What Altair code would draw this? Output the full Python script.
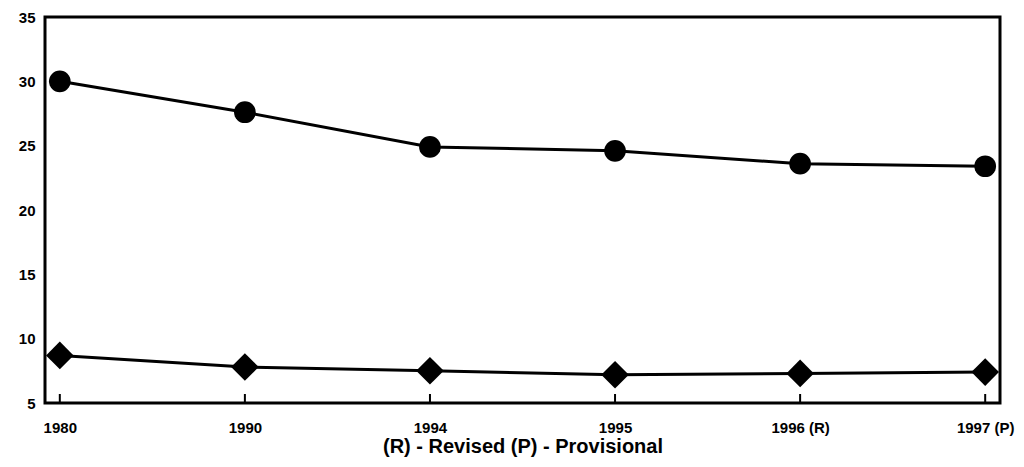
import altair as alt
import pandas as pd

years = ["1980", "1990", "1994", "1995", "1996 (R)", "1997 (P)"]
circle_vals = [30.0, 27.6, 24.9, 24.6, 23.6, 23.4]
diamond_vals = [8.7, 7.8, 7.5, 7.2, 7.3, 7.4]

df = pd.DataFrame({
    "year": years * 2,
    "value": circle_vals + diamond_vals,
    "series": ["A"] * len(years) + ["B"] * len(years),
})

FONT = "Liberation Sans"

x = alt.X("year:N", sort=years,
          scale=alt.Scale(type="point", padding=0.08),
          axis=alt.Axis(title="(R) - Revised (P) - Provisional", labelAngle=0,
                        labelFont=FONT, labelFontWeight="bold", labelFontSize=15,
                        labelColor="black", labelPadding=17,
                        titleFont=FONT, titleFontWeight="bold", titleFontSize=20,
                        titleColor="black", titlePadding=1,
                        ticks=False, domain=False, grid=False))
y = alt.Y("value:Q",
          scale=alt.Scale(domain=[5, 35], nice=False, zero=False),
          axis=alt.Axis(title=None, values=[5, 10, 15, 20, 25, 30, 35],
                        labelFont=FONT, labelFontWeight="bold", labelFontSize=15,
                        labelColor="black", labelPadding=10,
                        ticks=False, domain=False, grid=False))

base = alt.Chart(df).encode(x=x, y=y, detail="series:N")

lines = base.mark_line(color="black", strokeWidth=3)
circles = base.transform_filter(alt.datum.series == "A").mark_point(
    shape="circle", filled=True, color="black", size=470, opacity=1)
diamonds = base.transform_filter(alt.datum.series == "B").mark_point(
    shape="diamond", filled=True, color="black", size=760, opacity=1)
ticks = alt.Chart(pd.DataFrame({"year": years, "lo": [5] * 6, "hi": [5.7] * 6})).mark_rule(
    color="black", strokeWidth=2).encode(
    x=alt.X("year:N", sort=years), y=alt.Y("lo:Q"), y2="hi:Q")

chart = alt.layer(lines, ticks, circles, diamonds).properties(
    width=955, height=386,
    background="white",
    autosize=alt.AutoSizeParams(type="none"),
    padding={"left": 37, "top": 9, "right": 16, "bottom": 60},
).configure_view(stroke="black", strokeWidth=3)

chart.save("out.html", embed_options={"renderer": "svg", "actions": False})
